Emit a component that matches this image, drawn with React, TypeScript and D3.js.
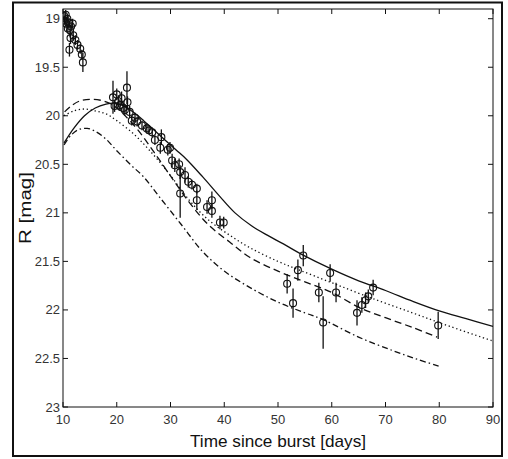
import React from "react";
import * as d3 from "d3";

// ---- data ----
const obsTime = [
  10.2, 10.3, 10.5, 10.6, 10.8, 10.9, 11.1, 11.3, 11.5, 11.8, 11.4, 11.9, 12.3, 11.2, 12.7, 13.2, 13.5, 13.7,
  19.3, 19.6, 20.0, 20.3, 20.6, 20.9, 21.2, 21.5, 21.9, 22.0, 22.4, 22.8, 23.4, 23.8, 24.7, 25.6, 26.0, 26.6,
  27.1, 28.3, 28.1, 29.5, 29.9, 30.3, 30.8, 31.6, 31.8, 31.8, 32.7, 33.3, 34.0, 34.9, 34.9, 36.8, 37.7, 37.7,
  39.2, 39.9,
  51.7, 52.8, 53.7, 54.7, 57.6, 58.4, 59.7, 60.8, 64.7, 65.6, 66.3, 66.8, 67.7, 79.8,
];
const obsMag = [
  18.97, 19.02, 18.96, 19.05, 19.0, 19.1, 19.04, 19.12, 19.08, 19.05, 19.2, 19.17, 19.22, 19.32, 19.27, 19.31, 19.37, 19.45,
  19.81, 19.9, 19.78, 19.85, 19.89, 19.82, 19.92, 19.94, 19.71, 19.86, 19.96, 20.05, 20.02, 20.06, 20.1, 20.13, 20.15, 20.17,
  20.25, 20.22, 20.33, 20.35, 20.33, 20.46, 20.51, 20.5, 20.58, 20.8, 20.61, 20.68, 20.71, 20.75, 20.87, 20.94, 20.87, 20.98,
  21.1, 21.1,
  21.73, 21.93, 21.59, 21.44, 21.82, 22.13, 21.62, 21.82, 22.03, 21.95, 21.9, 21.86, 21.77, 22.16,
];
const obsErr = [
  0.04, 0.04, 0.05, 0.05, 0.04, 0.05, 0.05, 0.05, 0.05, 0.05, 0.06, 0.05, 0.05, 0.07, 0.05, 0.05, 0.05, 0.1,
  0.17, 0.06, 0.06, 0.06, 0.06, 0.07, 0.06, 0.06, 0.17, 0.06, 0.06, 0.05, 0.05, 0.05, 0.05, 0.05, 0.04, 0.05,
  0.05, 0.08, 0.06, 0.06, 0.06, 0.07, 0.07, 0.06, 0.07, 0.25, 0.08, 0.06, 0.05, 0.05, 0.1, 0.07, 0.09, 0.07,
  0.07, 0.06,
  0.1, 0.15, 0.11, 0.11, 0.1, 0.27, 0.09, 0.1, 0.13, 0.08, 0.08, 0.07, 0.08, 0.14,
];

// model curves
const solidT = [10.2, 12, 14, 16, 18, 19.5, 21, 23, 25, 28, 31, 33, 36, 39, 42, 45, 48, 51, 54.5, 60, 65, 70, 75, 80, 85, 90];
const solidM = [20.28, 20.13, 20.0, 19.92, 19.88, 19.87, 19.89, 19.96, 20.05, 20.2, 20.35, 20.45, 20.63, 20.82, 21.0, 21.13, 21.23, 21.32, 21.43, 21.58, 21.7, 21.8, 21.91, 22.01, 22.09, 22.17];

const dashT = [10.3, 11.5, 13, 15, 17, 19, 21, 24, 27, 30, 33.6, 37, 41, 44.8, 50, 55, 60, 65.3, 70, 75, 79.6];
const dashM = [19.96, 19.9, 19.85, 19.83, 19.84, 19.88, 19.97, 20.15, 20.38, 20.62, 20.9, 21.12, 21.3, 21.46, 21.6, 21.71, 21.82, 21.98, 22.08, 22.18, 22.28];

const dotT = [10.2, 12, 14, 16, 18, 20, 23, 26, 29.5, 33.5, 37, 41, 44.8, 50, 54, 60, 67, 75, 82, 90];
const dotM = [20.0, 19.95, 19.93, 19.95, 19.98, 20.05, 20.18, 20.35, 20.58, 20.87, 21.07, 21.23, 21.36, 21.5, 21.59, 21.72, 21.87, 22.03, 22.17, 22.32];

const dashDotT = [10.2, 11.5, 13, 14.5, 16, 18, 20, 22.5, 25, 28, 32, 36, 40, 44.8, 50, 55, 58.4, 65, 71.4, 76, 80];
const dashDotM = [20.3, 20.2, 20.14, 20.13, 20.16, 20.24, 20.36, 20.5, 20.63, 20.84, 21.12, 21.4, 21.6, 21.77, 21.92, 22.03, 22.1, 22.28, 22.42, 22.51, 22.58];

const xTicks = [10, 20, 30, 40, 50, 60, 70, 80, 90];
const yTicks = [19, 19.5, 20, 20.5, 21, 21.5, 22, 22.5, 23];

const xLabel = "Time since burst [days]";
const yLabel = "R [mag]";

export default function App() {
  const W = 508, H = 459;
  const L = 63, R = 493, T = 9, B = 407;
  const x = d3.scaleLinear().domain([10, 90]).range([L, R]);
  const y = d3.scaleLinear().domain([18.9, 23]).range([T, B]);
  const font = "'Liberation Sans', Arial, Helvetica, sans-serif";
  const ink = "#111";

  const mk = (ts: number[], ms: number[]) =>
    d3.line<number>().x((_, i) => x(ts[i])).y((_, i) => y(ms[i])).curve(d3.curveCatmullRom.alpha(0.5))(ts.map((_, i) => i)) || "";

  const curves = [
    { d: mk(solidT, solidM), dash: "none" },
    { d: mk(dashT, dashM), dash: "7,4" },
    { d: mk(dotT, dotM), dash: "1.3,2.7" },
    { d: mk(dashDotT, dashDotM), dash: "6,3,1.5,3" },
  ];

  const tick = 5;

  return (
    <svg width={W} height={H} style={{ position: "absolute", left: 0, top: 0, background: "#fff" }}>
      <rect x={0} y={0} width={W} height={H} fill="#fff" />
      {/* outer figure frame */}
      <rect x={13} y={2.5} width={489} height={453.5} fill="none" stroke={ink} strokeWidth={2} />
      {/* axes box */}
      <rect x={L} y={T} width={R - L} height={B - T} fill="none" stroke={ink} strokeWidth={1} />
      {/* x ticks */}
      {xTicks.map((t) => (
        <g key={"xt" + t}>
          <line x1={x(t)} x2={x(t)} y1={B} y2={B - tick} stroke={ink} />
          <line x1={x(t)} x2={x(t)} y1={T} y2={T + tick} stroke={ink} />
          <text x={x(t)} y={B + 17} textAnchor="middle" fontFamily={font} fontSize={13} fill="#333">
            {String(t)}
          </text>
        </g>
      ))}
      {/* y ticks */}
      {yTicks.map((t) => (
        <g key={"yt" + t}>
          <line x1={L} x2={L + tick} y1={y(t)} y2={y(t)} stroke={ink} />
          <line x1={R} x2={R - tick} y1={y(t)} y2={y(t)} stroke={ink} />
          <text x={L - 3} y={y(t) + 4.5} textAnchor="end" fontFamily={font} fontSize={13} fill="#333">
            {String(t)}
          </text>
        </g>
      ))}
      <text x={(L + R) / 2} y={447} textAnchor="middle" fontFamily={font} fontSize={17} fill={ink}
        textLength={176} lengthAdjust="spacingAndGlyphs">
        {xLabel}
      </text>
      <text transform={`translate(31,${(T + B) / 2}) rotate(-90)`} textAnchor="middle" fontFamily={font} fontSize={16}
        fill={ink} textLength={72} lengthAdjust="spacingAndGlyphs">
        {yLabel}
      </text>
      <g clipPath="url(#clip)">
        <defs>
          <clipPath id="clip">
            <rect x={L} y={T} width={R - L} height={B - T} />
          </clipPath>
        </defs>
        {curves.map((c, i) => (
          <path key={"c" + i} d={c.d} fill="none" stroke={ink} strokeWidth={1.3} strokeDasharray={c.dash} />
        ))}
        {obsTime.map((t, i) => (
          <g key={"p" + i}>
            <line x1={x(t)} x2={x(t)} y1={y(obsMag[i] - obsErr[i])} y2={y(obsMag[i] + obsErr[i])} stroke={ink} strokeWidth={1.3} />
            <circle cx={x(t)} cy={y(obsMag[i])} r={3.5} fill="none" stroke={ink} strokeWidth={1.1} />
          </g>
        ))}
      </g>
    </svg>
  );
}
